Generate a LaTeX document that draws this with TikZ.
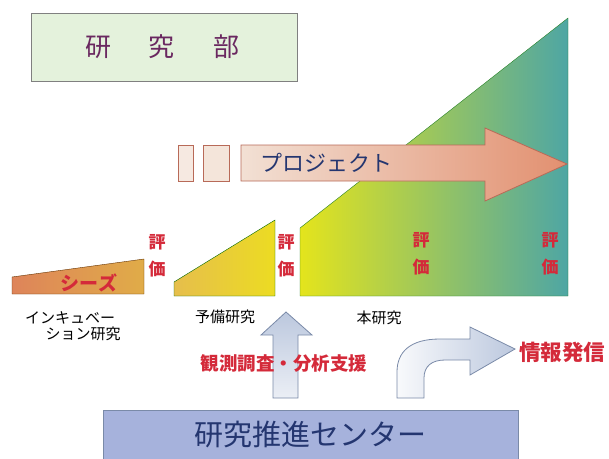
\documentclass[tikz,border=0pt]{standalone}
\usepackage{fontspec}
\newfontfamily\jpfont{Noto Sans CJK JP}
\usetikzlibrary{positioning}
\definecolor{boxgreen}{HTML}{E4F2DC}
\definecolor{plum}{HTML}{6A2860}
\definecolor{evalred}{HTML}{D42A3A}
\definecolor{navy}{HTML}{243670}
\definecolor{lavender}{HTML}{A6B2DC}
\definecolor{projline}{HTML}{B86A58}
\definecolor{blueline}{HTML}{7A8AA8}
\definecolor{mainleft}{HTML}{E4E41C}
\definecolor{mainmid}{HTML}{A2CC52}
\definecolor{mainright}{HTML}{4EA6A4}
\definecolor{prelleft}{HTML}{E6BE4C}
\definecolor{prelright}{HTML}{ECDC22}
\definecolor{seedleft}{HTML}{DE845A}
\definecolor{seedright}{HTML}{E0AC48}
\definecolor{projleft}{HTML}{F2E0D4}
\definecolor{projright}{HTML}{E29070}
\definecolor{arrblue}{HTML}{BCC8DE}

\begin{document}
\begin{tikzpicture}[x=1pt,y=-1pt,
    lbl/.style={font=\jpfont\fontsize{15}{15}\selectfont, inner sep=0pt},
    ttl/.style={font=\jpfont\fontsize{#1}{#1}\selectfont, inner sep=0pt},
    evl/.style={font=\jpfont\bfseries\fontsize{17}{27}\selectfont, text=evalred, align=center, inner sep=0pt},
    redlbl/.style={font=\jpfont\bfseries\fontsize{#1}{#1}\selectfont, text=evalred, inner sep=0pt},
    bluearrow/.style={draw=blueline, line width=0.8pt}]
        \useasboundingbox (0,0) rectangle (609,458);

        \draw[fill=boxgreen, draw=gray, line width=1pt] (31,13) rectangle (297,81);
        \node[ttl=26, text=plum] at (162,47)(bu){研\hspace{38pt}究\hspace{38pt}部};

        \path[shade, left color=mainleft, middle color=mainmid, right color=mainright, draw=black!50!green!70!gray]
        (300,296) -- (300,228) -- (568,18) -- (568,296) -- cycle;
        \path[shade, left color=prelleft, right color=prelright, draw=black!60!green]
        (174,296) -- (174,282) -- (275,220) -- (275,296) -- cycle;
        \path[shade, left color=seedleft, right color=seedright, draw=black!60!orange]
        (12,294) -- (12,277) -- (144,259) -- (144,294) -- cycle;

        \draw[fill=projleft!70!white, draw=projline] (178,145) rectangle (193,181);
        \draw[fill=projleft!85!white, draw=projline] (203,145) rectangle (229,181);
        \path[shade, left color=projleft, right color=projright, draw=projline, line width=0.8pt]
        (241,145) -- (485,145) -- (485,128) -- (567,164) -- (485,201) -- (485,181) -- (241,181) -- cycle;
        \node[ttl=22, text=navy] at (326,163)(pj){プロジェクト};

        \node[redlbl=19] at (89,283)(sz){シーズ};
        \node[evl] at (157,256)(e1){評\\価};
        \node[evl] at (286,256)(e2){評\\価};
        \node[evl] at (421,254)(e3){評\\価};
        \node[evl] at (550,254)(e4){評\\価};

        \node[lbl] at (70,318)(inc1){インキュベー};
        \node[lbl] at (83,334)(inc2){ション研究};
        \node[lbl] at (225,317)(yb){予備研究};
        \node[lbl] at (379,318)(hon){本研究};

        \path[shade, top color=arrblue, bottom color=arrblue!30!white, bluearrow]
        (273,398) -- (273,335) -- (261,335) -- (286,312) -- (312,335) -- (298,335) -- (298,398) -- cycle;
        \path[shade, left color=arrblue!10!white, right color=arrblue, bluearrow]
        (397,398) -- (397,372) .. controls (397,352) and (410,339) .. (440,339) -- (470,339) -- (470,327)
        -- (515,349) -- (470,375) -- (470,360) -- (445,360) .. controls (432,360) and (424,366) .. (424,378)
        -- (424,398) -- cycle;
        \node[redlbl=18.5] at (284,363)(kan){観測調査・分析支援};
        \node[redlbl=21.5] at (562,352)(jh){情報発信};

        \draw[fill=lavender, draw=blueline, line width=1pt] (103,410) rectangle (518,470);
        \node[ttl=29, text=navy] at (310,434)(ctr){研究推進センター};
    \end{tikzpicture}
\end{document}
